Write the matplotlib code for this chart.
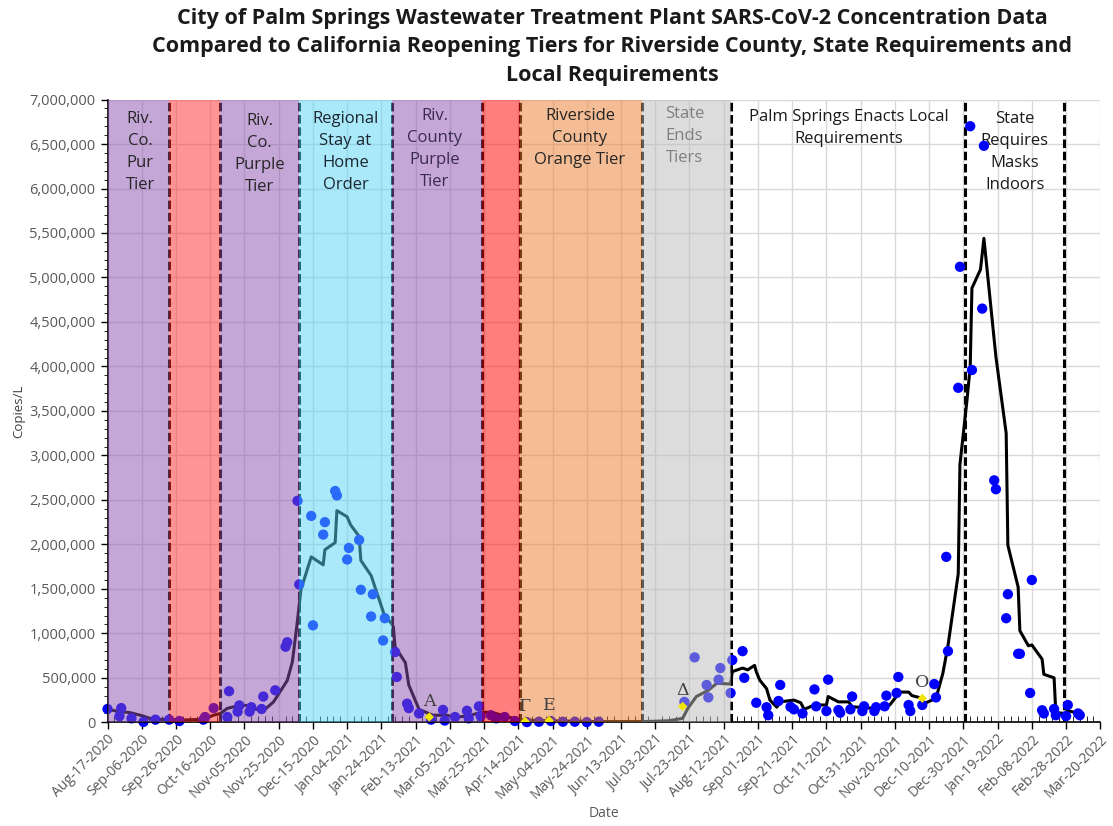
import matplotlib
matplotlib.use('Agg')

import matplotlib.pyplot as plt
import matplotlib.dates as mdates
import matplotlib.ticker as mticker
import pandas as pd

plt.rcParams['font.family'] = ['Open Sans', 'DejaVu Sans']

# wastewater samples (copies/L)
sample_dates = [
    '2020-08-17', '2020-08-24', '2020-08-25', '2020-08-31', '2020-09-07', '2020-09-14',
    '2020-09-22', '2020-09-28', '2020-10-12', '2020-10-13', '2020-10-18', '2020-10-26',
    '2020-10-27', '2020-11-01', '2020-11-02', '2020-11-08', '2020-11-09', '2020-11-15',
    '2020-11-16', '2020-11-23', '2020-11-29', '2020-11-30', '2020-12-06', '2020-12-07',
    '2020-12-14', '2020-12-15', '2020-12-21', '2020-12-22', '2020-12-28', '2020-12-29',
    '2021-01-04', '2021-01-05', '2021-01-11', '2021-01-12', '2021-01-18', '2021-01-19',
    '2021-01-25', '2021-01-26', '2021-02-01', '2021-02-02', '2021-02-08', '2021-02-09',
    '2021-02-15', '2021-02-22', '2021-03-01', '2021-03-02', '2021-03-08', '2021-03-15',
    '2021-03-16', '2021-03-22', '2021-03-23', '2021-03-29', '2021-04-01', '2021-04-06',
    '2021-04-12', '2021-04-19', '2021-04-26', '2021-05-03', '2021-05-10', '2021-05-17',
    '2021-05-24', '2021-05-31', '2021-07-20', '2021-07-26', '2021-08-02', '2021-08-03',
    '2021-08-09', '2021-08-10', '2021-08-16', '2021-08-17', '2021-08-23', '2021-08-24',
    '2021-08-31', '2021-09-06', '2021-09-07', '2021-09-13', '2021-09-14', '2021-09-20',
    '2021-09-22', '2021-09-27', '2021-10-04', '2021-10-05', '2021-10-11', '2021-10-12',
    '2021-10-18', '2021-10-19', '2021-10-25', '2021-10-26', '2021-11-01', '2021-11-02',
    '2021-11-08', '2021-11-09', '2021-11-14', '2021-11-15', '2021-11-21', '2021-11-22',
    '2021-11-28', '2021-11-29', '2021-12-06', '2021-12-13', '2021-12-14', '2021-12-20',
    '2021-12-21', '2021-12-27', '2021-12-28', '2022-01-03', '2022-01-04', '2022-01-10',
    '2022-01-11', '2022-01-17', '2022-01-18', '2022-01-24', '2022-01-25', '2022-01-31',
    '2022-02-01', '2022-02-07', '2022-02-08', '2022-02-14', '2022-02-15', '2022-02-21',
    '2022-02-22', '2022-02-28', '2022-03-01', '2022-03-07', '2022-03-08',
]
sample_copies = [
    150000, 70000, 160000, 45000, 5000, 30000,
    30000, 15000, 30000, 60000, 160000, 60000,
    350000, 120000, 190000, 120000, 170000, 150000,
    290000, 360000, 850000, 900000, 2490000, 1550000,
    2320000, 1090000, 2110000, 2250000, 2600000, 2550000,
    1830000, 1960000, 2050000, 1490000, 1190000, 1440000,
    920000, 1170000, 790000, 510000, 210000, 160000,
    100000, 30000, 140000, 20000, 60000, 130000,
    45000, 180000, 70000, 80000, 45000, 60000,
    15000, 3000, 7000, 15000, 7000, 7000,
    3000, 7000, 230000, 730000, 420000, 280000,
    480000, 610000, 330000, 700000, 800000, 500000,
    220000, 170000, 80000, 240000, 420000, 175000,
    146000, 100000, 370000, 180000, 127000, 480000,
    138000, 108000, 146000, 290000, 127000, 180000,
    127000, 170000, 180000, 300000, 330000, 510000,
    195000, 127000, 195000, 430000, 280000, 1860000,
    800000, 3760000, 5120000, 6700000, 3960000, 4650000,
    6480000, 2720000, 2620000, 1170000, 1440000, 770000,
    770000, 330000, 1600000, 136000, 100000, 150000,
    80000, 70000, 195000, 100000, 80000,
]

# moving average line
avg_dates = [
    '2020-08-17', '2020-08-24', '2020-08-30', '2020-09-07', '2020-09-12', '2020-09-22',
    '2020-09-30', '2020-10-12', '2020-10-18', '2020-10-22', '2020-10-26', '2020-11-02',
    '2020-11-08', '2020-11-11', '2020-11-17', '2020-11-22', '2020-11-30', '2020-12-03',
    '2020-12-06', '2020-12-08', '2020-12-14', '2020-12-21', '2020-12-22', '2020-12-28',
    '2020-12-29', '2021-01-04', '2021-01-06', '2021-01-11', '2021-01-12', '2021-01-18',
    '2021-01-26', '2021-01-30', '2021-01-31', '2021-02-01', '2021-02-07', '2021-02-09',
    '2021-02-15', '2021-02-23', '2021-03-03', '2021-03-09', '2021-03-17', '2021-03-24',
    '2021-03-30', '2021-04-14', '2021-05-29', '2021-06-25', '2021-07-11', '2021-07-19',
    '2021-07-22', '2021-07-27', '2021-08-03', '2021-08-08', '2021-08-16', '2021-08-17',
    '2021-08-23', '2021-08-26', '2021-08-30', '2021-08-31', '2021-09-02', '2021-09-06',
    '2021-09-08', '2021-09-12', '2021-09-14', '2021-09-22', '2021-09-26', '2021-09-28',
    '2021-10-04', '2021-10-11', '2021-10-12', '2021-10-18', '2021-10-24', '2021-10-26',
    '2021-11-08', '2021-11-12', '2021-11-17', '2021-11-20', '2021-11-23', '2021-11-28',
    '2021-11-30', '2021-12-06', '2021-12-07', '2021-12-14', '2021-12-18', '2021-12-21',
    '2021-12-27', '2021-12-28', '2022-01-01', '2022-01-03', '2022-01-04', '2022-01-09',
    '2022-01-11', '2022-01-18', '2022-01-24', '2022-01-25', '2022-01-31', '2022-02-01',
    '2022-02-06', '2022-02-08', '2022-02-14', '2022-02-15', '2022-02-21', '2022-02-22',
    '2022-02-27', '2022-03-01', '2022-03-08',
]
avg_copies = [
    146000, 120000, 110000, 70000, 34000, 34000,
    26000, 34000, 80000, 100000, 157000, 190000,
    190000, 146000, 146000, 230000, 470000, 680000,
    1150000, 1490000, 1860000, 1770000, 1940000, 2020000,
    2380000, 2310000, 2220000, 2090000, 1820000, 1650000,
    1190000, 1110000, 1070000, 850000, 670000, 420000,
    146000, 80000, 80000, 56000, 80000, 115000,
    110000, 26000, 8000, 8000, 18000, 45000,
    157000, 290000, 360000, 440000, 430000, 570000,
    610000, 590000, 640000, 570000, 475000, 380000,
    250000, 170000, 230000, 250000, 220000, 146000,
    195000, 195000, 290000, 230000, 230000, 175000,
    157000, 170000, 195000, 270000, 340000, 340000,
    300000, 270000, 210000, 270000, 550000, 860000,
    1670000, 2900000, 3600000, 4000000, 4880000, 5090000,
    5440000, 4110000, 3250000, 1990000, 1520000, 1030000,
    860000, 870000, 710000, 540000, 500000, 110000,
    100000, 130000, 100000,
]

# first detection of variants
variant_names = ['Α', 'Γ', 'Ε', 'Δ', 'Ο']
variant_dates = ['2021-02-21', '2021-04-18', '2021-05-02', '2021-07-19', '2021-12-06']
variant_copies = [60000, 10000, 20000, 180000, 270000]

# shaded periods
band_starts = ['2020-08-17', '2020-09-22', '2020-10-22', '2020-12-07', '2021-01-30',
               '2021-03-24', '2021-04-15', '2021-06-25']
band_ends = ['2020-09-22', '2020-10-22', '2020-12-07', '2021-01-30', '2021-03-24',
             '2021-04-15', '2021-06-25', '2021-08-16']
band_colors = ['#8b51af', '#ff2b2b', '#8b51af', '#55d5f5', '#8b51af',
               '#ff0000', '#ed7d2d', '#bbbbbb']
change_dates = ['2020-09-22', '2020-10-22', '2020-12-07', '2021-01-30', '2021-03-24',
                '2021-04-15', '2021-06-25', '2021-08-16', '2021-12-31', '2022-02-27']

period_labels = ['Riv.\nCo.\nPur\nTier', 'Riv.\nCo.\nPurple\nTier',
                 'Regional\nStay at\nHome\nOrder', 'Riv.\nCounty\nPurple\nTier',
                 'Riverside\nCounty\nOrange Tier', 'State\nEnds\nTiers',
                 'Palm Springs Enacts Local\nRequirements',
                 'State\nRequires\nMasks\nIndoors']
label_dates = ['2020-09-05', '2020-11-14', '2021-01-03', '2021-02-24', '2021-05-20',
               '2021-07-20', '2021-10-24', '2022-01-29']
label_tops = [6870000, 6850000, 6870000, 6900000, 6910000, 6930000, 6890000, 6870000]
label_colors = ['#262626', '#262626', '#1c2630', '#3a2a50', '#262626', '#7f7f7f',
                '#1a1a1a', '#1a1a1a']
label_on_top = [True, True, True, True, True, True, False, False]

fig = plt.figure(figsize=(11.13, 8.26), dpi=100)
ax = fig.add_axes([0.0966, 0.1255, 0.892, 0.754])

ax.grid(True, color='#d9d9d9', lw=1, zorder=0)
ax.set_axisbelow(True)

for d in change_dates:
    ax.axvline(pd.Timestamp(d), color='black', lw=2.2, ls=(0, (2.8, 1.2)), zorder=2)

ax.plot(pd.to_datetime(avg_dates), avg_copies, color='black', lw=2.2, zorder=2)
ax.scatter(pd.to_datetime(sample_dates), sample_copies, s=55, color='#0000ff',
           edgecolors='none', zorder=2.5, clip_on=False)

for s, e, c in zip(band_starts, band_ends, band_colors):
    ax.axvspan(pd.Timestamp(s), pd.Timestamp(e), color=c, alpha=0.5, lw=0, zorder=3)

ax.scatter(pd.to_datetime(variant_dates), variant_copies, marker='D', s=22,
           color='#f2e600', edgecolors='none', zorder=4)
for n, d, v in zip(variant_names, variant_dates, variant_copies):
    ax.annotate(n, (pd.Timestamp(d), v), xytext=(0, 5), textcoords='offset points',
                ha='center', va='bottom', fontsize=12.5, family='DejaVu Serif',
                color='#404040', zorder=5)

for t, d, y, c, top in zip(period_labels, label_dates, label_tops, label_colors, label_on_top):
    ax.text(pd.Timestamp(d), y, t, ha='center', va='top', fontsize=12, color=c,
            linespacing=1.5, zorder=5 if top else 2.2)

ax.set_xlim(pd.Timestamp('2020-08-17'), pd.Timestamp('2022-03-20'))
ax.set_ylim(0, 7000000)

xt = pd.date_range('2020-08-17', '2022-03-20', freq='20D')
ax.set_xticks(xt)
ax.xaxis.set_major_formatter(mdates.DateFormatter('%b-%d-%Y'))
ax.set_xticks(pd.date_range('2020-08-17', '2022-03-20', freq='4D'), minor=True)
ax.yaxis.set_major_locator(mticker.MultipleLocator(500000))
ax.yaxis.set_minor_locator(mticker.MultipleLocator(100000))
ax.yaxis.set_major_formatter(mticker.FuncFormatter(lambda v, p: '{:,.0f}'.format(v)))

plt.setp(ax.get_xticklabels(), rotation=45, ha='right', va='top', rotation_mode='anchor')
ax.tick_params(axis='both', which='major', labelcolor='#595959', length=5, width=1)
ax.tick_params(axis='x', which='major', labelsize=10, pad=2)
ax.tick_params(axis='y', which='major', labelsize=10.5)
ax.tick_params(axis='x', which='minor', direction='in', length=4)
ax.tick_params(axis='y', which='minor', length=3)

for sp in ['top', 'right']:
    ax.spines[sp].set_visible(False)
ax.spines['left'].set_linewidth(1.2)
ax.spines['bottom'].set_linewidth(1.2)

ax.set_xlabel('Date', fontsize=10, color='#595959', labelpad=3)
ax.set_ylabel('Copies/L', fontsize=9.5, color='#404040', labelpad=3)

fig.suptitle('City of Palm Springs Wastewater Treatment Plant SARS-CoV-2 Concentration Data\n'
             'Compared to California Reopening Tiers for Riverside County, State Requirements and\n'
             'Local Requirements', x=0.55, y=0.99, fontsize=15.5, fontweight='bold',
             color='#1a1a1a', linespacing=1.45)

fig.savefig('out.png', dpi=100)
